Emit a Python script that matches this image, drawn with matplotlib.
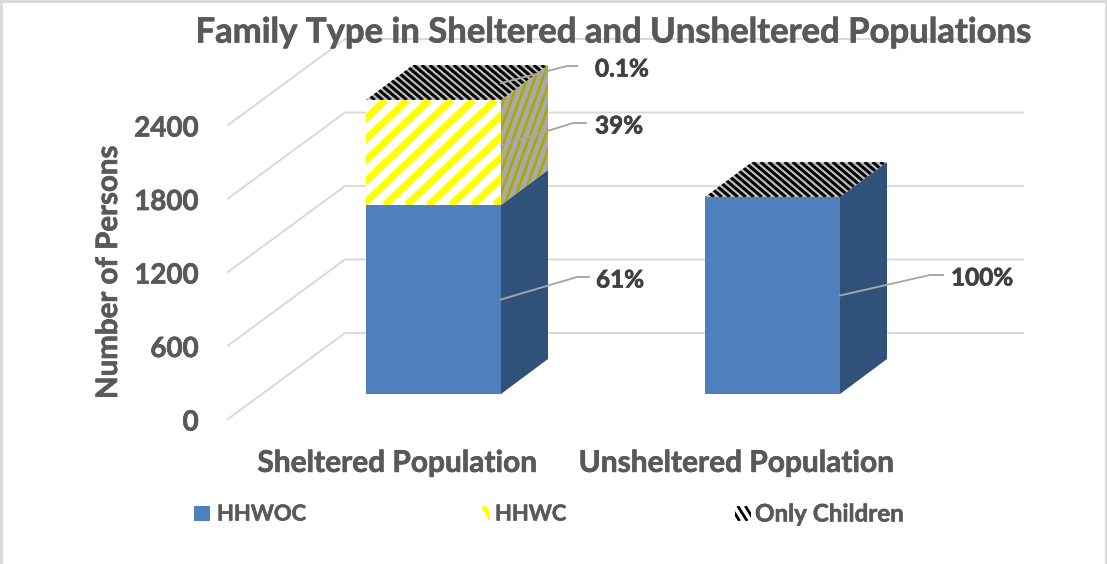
import numpy as np
import matplotlib
matplotlib.use("Agg")
import matplotlib.pyplot as plt
import matplotlib.patheffects as pe
from matplotlib.patches import Polygon, Rectangle
from matplotlib.collections import LineCollection
from matplotlib.transforms import Affine2D, IdentityTransform, ScaledTranslation

categories = ["Sheltered Population", "Unsheltered Population"]
series_names = ["HHWOC", "HHWC", "Only Children"]
hhwoc = [1543, 1608]
hhwc = [855, 0]
only_children = [2, 0]
y_ticks = [0, 600, 1200, 1800, 2400]
title = "Family Type in Sheltered and Unsheltered Populations"
y_title = "Number of Persons"
point_labels = [["61%", "39%", "0.1%"], ["100%", None, None]]

W, H = 1107, 564
plt.rcParams["font.family"] = ["Lato", "DejaVu Sans"]
TXT = "#595959"
fig = plt.figure(figsize=(W / 100, H / 100), dpi=100, facecolor="white")
P = Affine2D().scale(1 / W, -1 / H).translate(0, 1) + fig.transFigure


def heavy(color, w=0.5):
    return [pe.withStroke(linewidth=w, foreground=color)]


ax = fig.add_axes([228 / W, (H - 419) / H, 678 / W, 294 / H])
ax.set_xlim(-0.5059, 1.4941)
ax.set_ylim(0, 2400)
ax.patch.set_alpha(0)
for s in ax.spines.values():
    s.set_visible(False)
PX = 2.0 / 678
PY = 2400 / 294


def shift(x, v, dx_px, dy_px):
    return (x + dx_px * PX, v + dy_px * PY)


# walls
GRID = "#D9D9D9"
xmin, xmax = ax.get_xlim()
for v in y_ticks:
    pts = [(xmin, v), shift(xmin, v, 117, 86), shift(xmax, v, 117, 86)]
    ax.plot(*zip(*pts), color=GRID, lw=1.4, clip_on=False, zorder=1, solid_joinstyle="miter")


def stripes(patch, dx, dy, period, width, color, z):
    path = patch.get_path().transformed(patch.get_transform())
    xs, ys = path.vertices[:, 0], path.vertices[:, 1]
    x0, x1, y0, y1 = xs.min(), xs.max(), ys.min(), ys.max()
    slope = dy / dx
    span = abs((y1 - y0) / slope) + (x1 - x0) + 2 * period
    segs = []
    start = x0 - span
    for k in range(int(2 * span / period) + 2):
        xb = start + k * period
        segs.append([(xb, y0), (xb + (y1 - y0) / slope, y1)])
    lc = LineCollection(segs, colors=color, linewidths=width * 0.72,
                        transform=IdentityTransform(), zorder=z, capstyle="butt")
    fig.add_artist(lc)
    lc.set_zorder(z)
    lc.set_clip_path(patch)
    return lc


front_col = ["#4F80BD", None, None]
side_col = ["#30527A", None, None]
BAR_W = 135 * PX
bar_d_front = (34, 25)
bar_d_back = (81, 60)


def face(pts, fc, z):
    p = Polygon(pts, closed=True, fc=fc, ec="none", clip_on=False, zorder=z)
    ax.add_patch(p)
    return p


extra_lines = []
stack = np.vstack([hhwoc, hhwc, only_children]).astype(float)
for i in range(len(categories)):
    base = 0.0
    xl, xr = i - BAR_W / 2, i + BAR_W / 2
    fx, fy = bar_d_front
    bx, by = bar_d_back
    for s in range(3):
        val = stack[s, i]
        if val <= 0:
            continue
        top = base + val
        f = [shift(xl, base, fx, fy), shift(xr, base, fx, fy), shift(xr, top, fx, fy), shift(xl, top, fx, fy)]
        d = [shift(xr, base, fx, fy), shift(xr, base, bx, by), shift(xr, top, bx, by), shift(xr, top, fx, fy)]
        if s == 0:
            face(f, front_col[0], 3)
            face(d, side_col[0], 3)
        elif s == 1:
            pf = face(f, "white", 3)
            pd = face(d, "#A9A9A9", 3)
            extra_lines.append((pf, 1, 0.95, 22, 7.0, "#FFFF00"))
            extra_lines.append((pd, 1, 2.75, 7.8, 2.6, "#A8A800"))
        else:
            face(f, "#808080", 3)
        base = top
    t = [shift(xl, base, fx, fy), shift(xr, base, fx, fy), shift(xr, base, bx, by), shift(xl, base, bx, by)]
    pt = face(t, "#BEBEBE", 3)
    extra_lines.append((pt, 1, -0.85, 8, 3.0, "#000000"))

for (p, dx, dy, per, w, c) in extra_lines:
    stripes(p, dx, dy, per, w, c, 4)

# ticks and axis text
ax.set_xticks(range(len(categories)))
ax.set_xticklabels(categories, fontsize=21.5, fontweight="bold", color=TXT, path_effects=heavy(TXT))
ax.set_yticks(y_ticks)
ax.set_yticklabels([str(v) for v in y_ticks], fontsize=20, fontweight="bold", color=TXT, path_effects=heavy(TXT))
ax.tick_params(axis="x", length=0, pad=21.5)
ax.tick_params(axis="y", length=0, pad=21)
for lab in ax.get_xticklabels():
    lab.set_transform(lab.get_transform() + ScaledTranslation(-2 / 100, 0, fig.dpi_scale_trans))
for lab in ax.get_yticklabels():
    lab.set_transform(lab.get_transform() + ScaledTranslation(0, -1 / 100, fig.dpi_scale_trans))
ax.set_ylabel(y_title, fontsize=21.2, fontweight="bold", color=TXT, path_effects=heavy(TXT))
ax.yaxis.set_label_coords((122 - 228) / 678, (419 - 273) / 294)
fig.suptitle(title, x=613.5 / W, y=1 - 32.5 / H, ha="center", va="center",
             fontsize=24.95, fontweight="bold", color=TXT, zorder=8, path_effects=heavy(TXT))

# data labels with leader lines (start shift in px, elbow, end, text pos)
LEAD = "#A6A6A6"
leaders = {
    (0, 0): ((0, 0), (577, 277), (589, 277), (596, 280)),
    (0, 1): ((0, 7), (573, 123), (586, 123), (595, 126)),
    (0, 2): ((0, 17), (567, 66), (577, 66), (595, 69)),
    (1, 0): ((0, 0), (930, 275), (943, 275), (951, 278)),
}
for (i, s), (off, elbow, end, pos) in leaders.items():
    mid = stack[:s, i].sum() + stack[s, i] / 2
    sx, sy = shift(i + BAR_W / 2, mid, bar_d_front[0] + off[0], bar_d_front[1] + off[1])
    a = ax.transData.transform((sx, sy))
    start_px = (a[0], H - a[1])
    xs_, ys_ = zip(start_px, elbow, end)
    fig.add_artist(plt.Line2D(xs_, ys_, transform=P, color=LEAD, lw=1.35, zorder=6))
    fig.text(pos[0] / W, 1 - pos[1] / H, point_labels[i][s], ha="left", va="center",
             fontsize=17.5, fontweight="bold", color="#404040", zorder=7, path_effects=heavy("#404040"))

# legend
leg_txt_x = [217, 495, 755]
swatch_x = [194, 474, 735]
leg_size = [15.8, 15.8, 17.4]
for n, (name, tx, sx) in enumerate(zip(series_names, leg_txt_x, swatch_x)):
    r = Rectangle((sx, 506), 16, 15, transform=P, fc=["#4F80BD", "white", "white"][n], ec="none", zorder=5)
    fig.add_artist(r)
    if n == 1:
        stripes(r, 1, -1.6, 22, 5.0, "#FFFF00", 6)
    if n == 2:
        stripes(r, 1, -1.6, 7.5, 2.8, "#000000", 6)
    fig.text(tx / W, 1 - 514 / H, name, ha="left", va="center", fontsize=leg_size[n],
             fontweight="bold", color=TXT, zorder=7, path_effects=heavy(TXT, 0.4))

# chart border
for seg in [((0.5, 0.5), (H, 0.5)), ((0.5, W - 1), (0.5, 0.5)), ((W - 1, W - 1), (0.5, H))]:
    fig.add_artist(plt.Line2D(seg[0], seg[1], transform=P, color="#D9D9D9", lw=2, zorder=9))

fig.savefig("out.png", dpi=100, facecolor="white")
